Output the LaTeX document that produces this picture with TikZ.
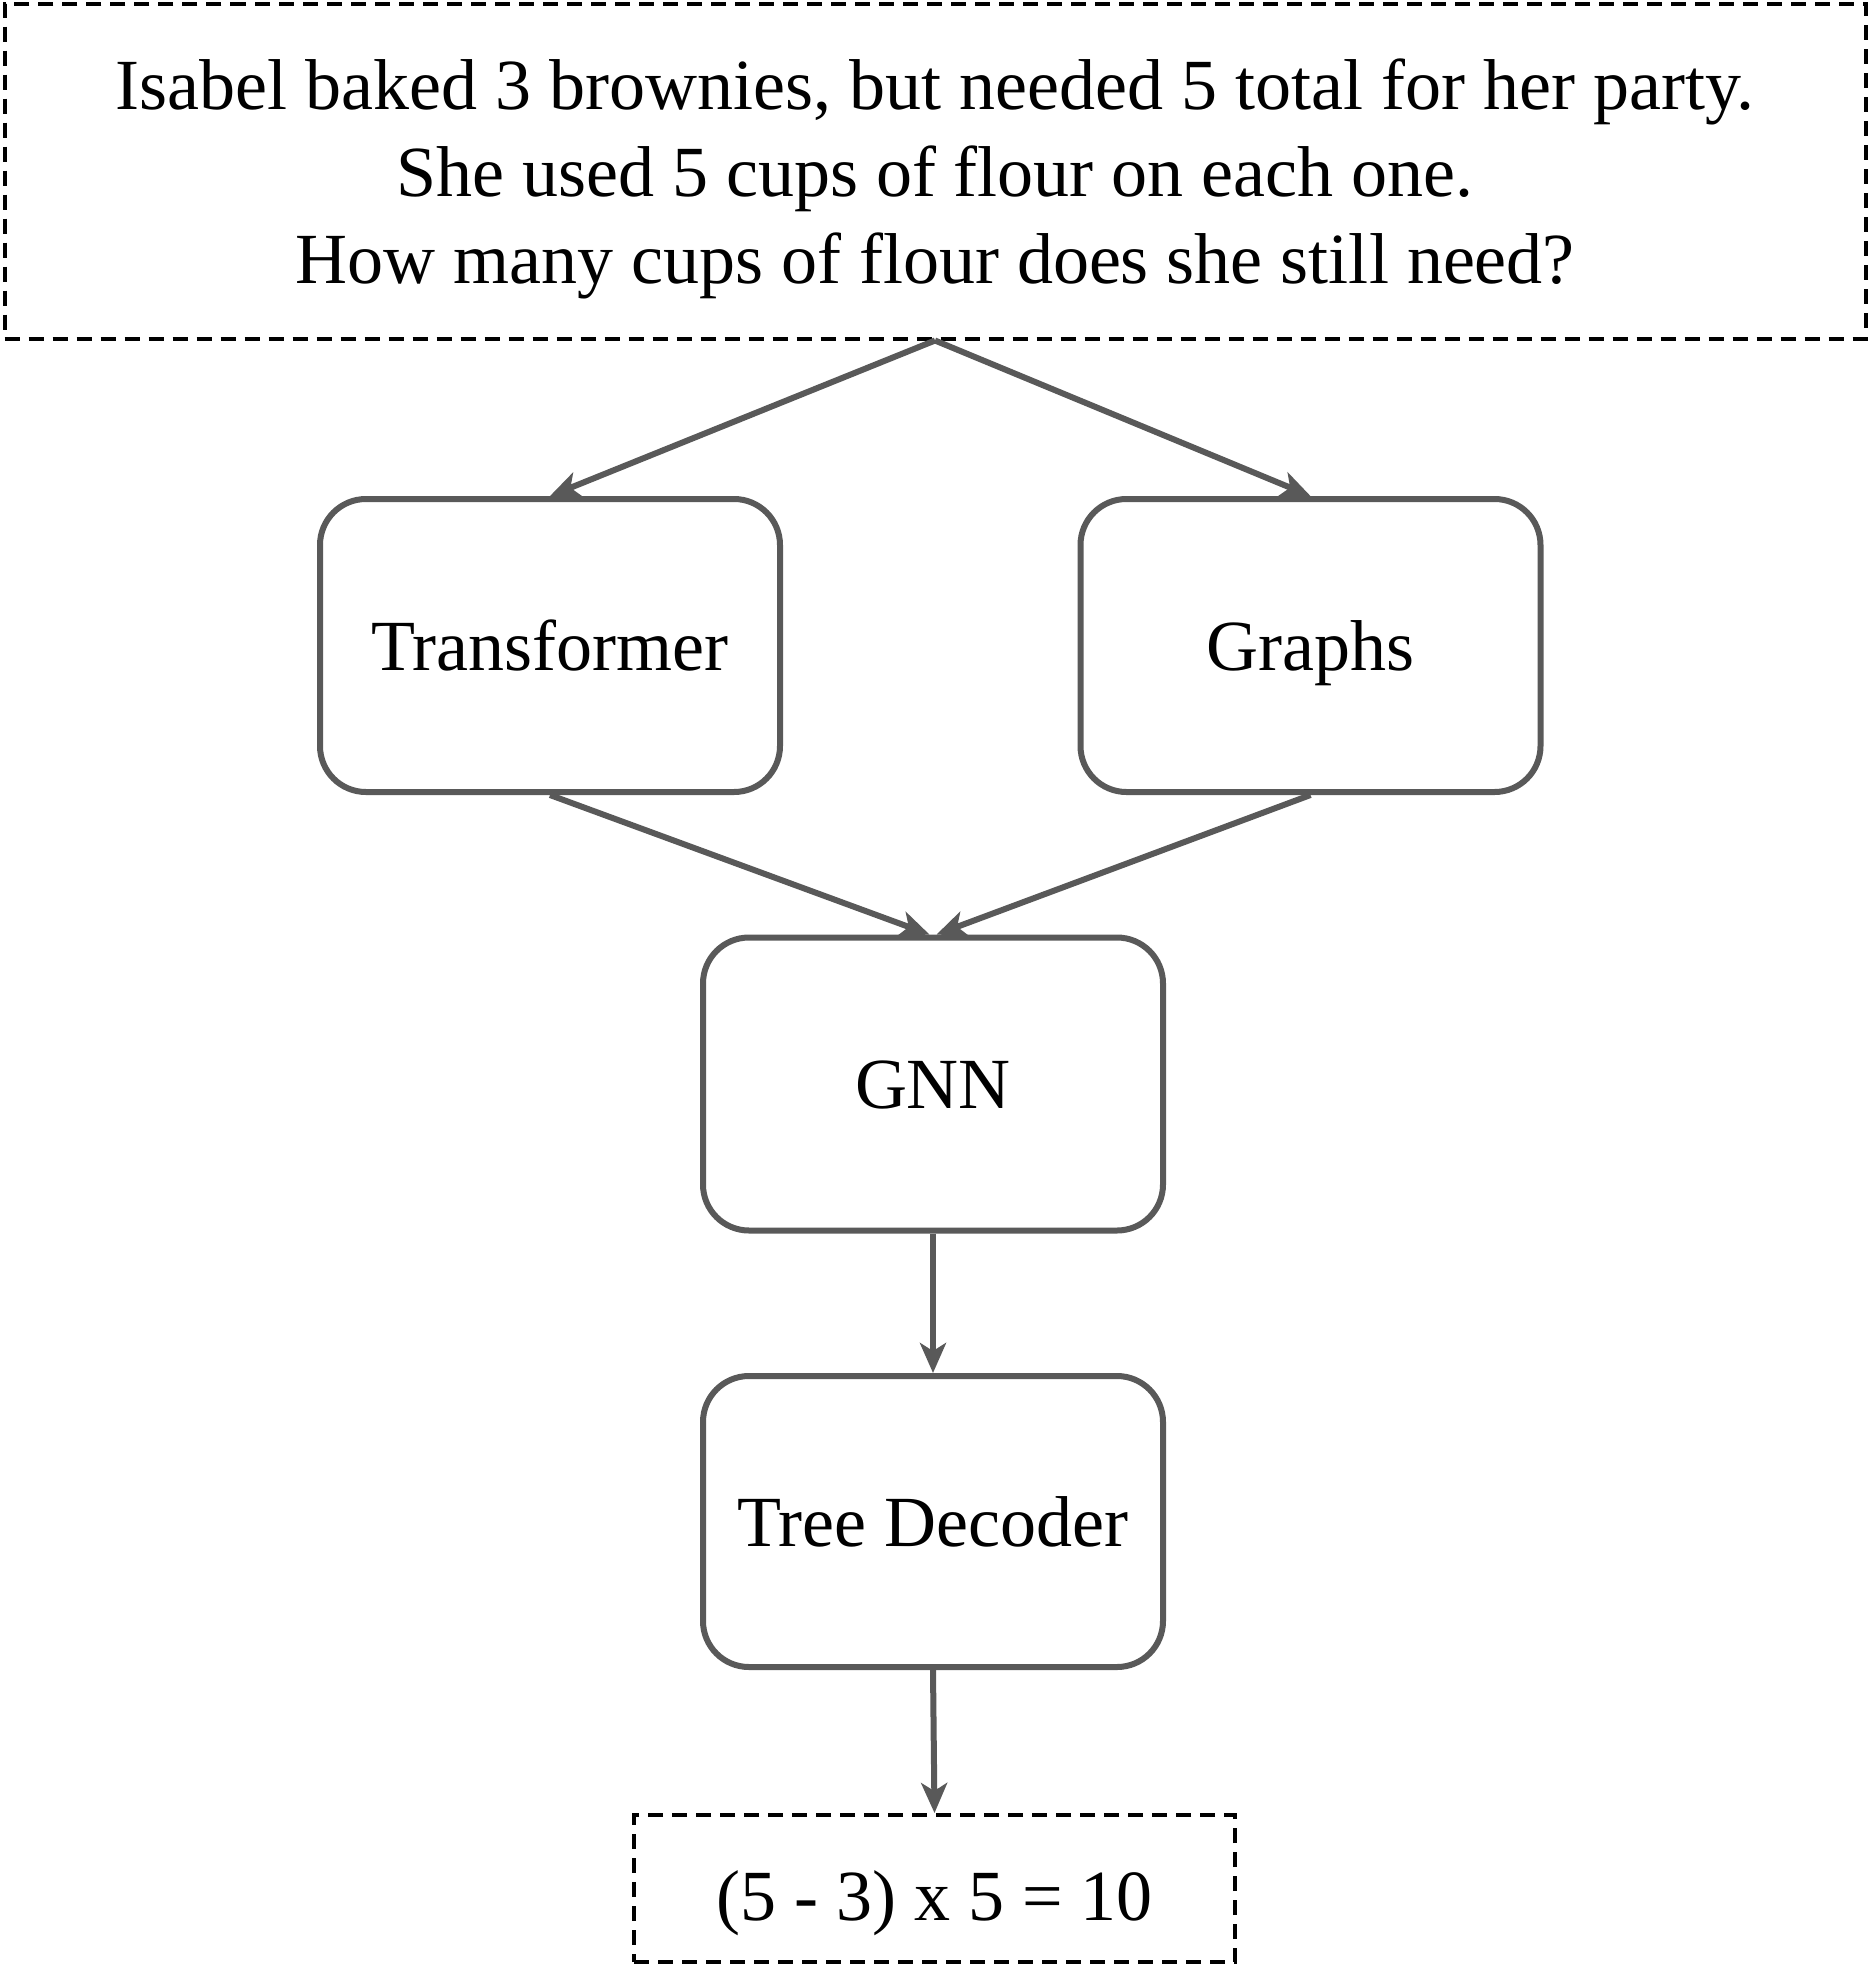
\documentclass[tikz,border=0pt]{standalone}
\usepackage{fontspec}
\setmainfont{Liberation Serif}
\usetikzlibrary{arrows.meta}
\definecolor{lc}{RGB}{89,89,89}
\begin{document}
\begin{tikzpicture}[x=0.5pt,y=-0.5pt,
  box/.style={draw=lc, line width=3pt, rounded corners=23pt, minimum width=230pt, minimum height=146.5pt, inner sep=0pt, text height=24.6pt, text depth=0pt, font=\fontsize{36}{43.5}\selectfont},
  dbox/.style={draw=black, line width=2pt, dash pattern=on 7.5pt off 4.5pt, inner sep=0pt, align=center, font=\fontsize{36}{43.5}\selectfont},
  arr/.style={draw=lc, line width=3pt, -{Stealth[length=15pt,width=13pt,inset=4pt]}}]
\useasboundingbox (0,0) rectangle (1874,1966);
\node[dbox, text depth=0pt, minimum width=930.5pt, minimum height=167.5pt] (q) at (935,171) {Isabel baked 3 brownies, but needed 5 total for her party.\\She used 5 cups of flour on each one.\\How many cups of flour does she still need?};
\node[box] (tr) at (550,645.5) {Transformer};
\node[box] (gr) at (1310.5,645.5) {Graphs};
\node[box] (gnn) at (933,1084) {GNN};
\node[box, minimum height=145.5pt] (td) at (933,1521.5) {Tree Decoder};
\node[dbox, text height=31.5pt, text depth=0pt, minimum width=300.5pt, minimum height=73.5pt] (res) at (934.5,1888.5) {(5 - 3) x 5 = 10};
\draw[arr] (q.south) -- (tr.north);
\draw[arr] (q.south) -- (gr.north);
\draw[arr] (tr.south) -- ([xshift=-1.75pt]gnn.north);
\draw[arr] (gr.south) -- ([xshift=1.75pt]gnn.north);
\draw[arr] (gnn.south) -- (td.north);
\draw[arr] (td.south) -- (res.north);
\end{tikzpicture}
\end{document}
